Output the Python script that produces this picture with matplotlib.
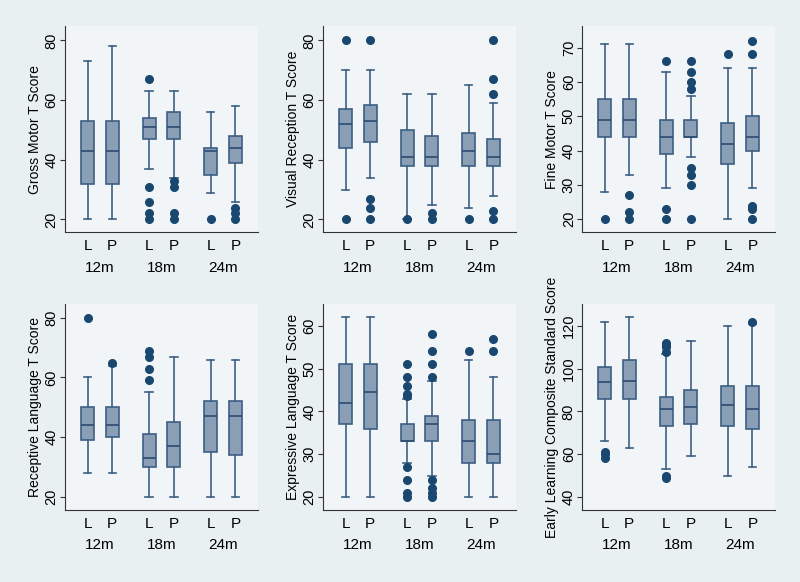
import matplotlib
matplotlib.use("Agg")
import matplotlib.pyplot as plt

plt.rcParams["font.family"] = ["Liberation Sans", "DejaVu Sans"]

# categories
GROUPS = ["12m", "18m", "24m"]
ARMS = ["L", "P"]

# box stats per panel: (lower whisker, Q1, median, Q3, upper whisker) for 12L,12P,18L,18P,24L,24P
gm_stats = [(20, 32, 43, 53, 73), (20, 32, 43, 53, 78), (37, 47, 51, 54, 63),
            (34, 47, 51, 56, 63), (29, 35, 43, 44, 56), (26, 39, 44, 48, 58)]
gm_out = [[], [], [67, 31, 26, 22, 20], [33, 31, 22, 20], [20], [24, 22, 20]]

vr_stats = [(30, 44, 52, 57, 70), (34, 46, 53, 58.5, 70), (20, 38, 41, 50, 62),
            (25, 38, 41, 48, 62), (24, 38, 43, 49, 65), (28, 38, 41, 47, 59)]
vr_out = [[80, 20], [80, 27, 24, 20], [20], [22, 20], [20], [80, 67, 62, 23, 20]]

fm_stats = [(28, 44, 49, 55, 71), (33, 44, 49, 55, 71), (29, 39, 44, 49, 63),
            (38, 44, 44, 49, 56), (20, 36, 42, 48, 64), (29, 40, 44, 50, 64)]
fm_out = [[20], [27, 22, 20], [66, 23, 20], [66, 63, 60, 58, 35, 33, 30, 20],
          [68], [72, 68, 24, 23, 20]]

rl_stats = [(28, 39, 44, 50, 60), (28, 40, 44, 50, 64), (20, 30, 33, 41, 55),
            (20, 30, 37, 45, 67), (20, 35, 47, 52, 66), (20, 34, 47, 52, 66)]
rl_out = [[80], [65], [69, 67, 63, 59], [], [], []]

el_stats = [(20, 37, 42, 51, 62), (20, 36, 44.5, 51, 62), (28, 33, 33, 37, 43),
            (25, 33, 37, 39, 47), (20, 28, 33, 38, 52), (20, 28, 30, 38, 48)]
el_out = [[], [], [51, 48, 46, 44, 43.5, 27, 24, 21, 20],
          [58, 54, 51, 48, 24, 22, 21, 20], [54], [57, 54]]

elc_stats = [(66, 86, 94, 101, 122), (63, 86, 94.5, 104, 124), (53, 73, 81, 87, 107),
             (59, 74, 82, 90, 113), (50, 73, 83, 92, 120), (54, 72, 81, 92, 121)]
elc_out = [[61, 60, 58], [], [112, 111, 110, 108, 50, 49], [], [], [122]]

PANELS = [
    ("Gross Motor T Score", gm_stats, gm_out, (15.7, 84.8), [20, 40, 60, 80]),
    ("Visual Reception T Score", vr_stats, vr_out, (15.7, 84.8), [20, 40, 60, 80]),
    ("Fine Motor T Score", fm_stats, fm_out, (16.2, 76.3), [20, 30, 40, 50, 60, 70]),
    ("Receptive Language T Score", rl_stats, rl_out, (15.65, 84.6), [20, 40, 60, 80]),
    ("Expressive Language T Score", el_stats, el_out, (16.96, 65.1), [20, 30, 40, 50, 60]),
    ("Early Learning Composite Standard Score", elc_stats, elc_out, (33.9, 130.3),
     [40, 60, 80, 100, 120]),
]

POS = [0, 1, 2.5, 3.5, 5, 6]
BG = "#E8F0F2"
PLOTBG = "#F1F5F7"
NAVY = "#1A476F"
EDGE = "#3D5F84"
FILL = "#8A9EB6"

fig = plt.figure(figsize=(8, 5.82), dpi=100, facecolor=BG)

lefts = [65, 323, 582]
rows = [(26, 232.3), (304, 510)]
for i, (ylab, stats, outs, ylim, yticks) in enumerate(PANELS):
    top, bot = rows[i // 3]
    ax = fig.add_axes([lefts[i % 3] / 800, (582 - bot) / 582, 193 / 800, (bot - top) / 582])
    ax.set_facecolor(PLOTBG)
    boxes = [dict(whislo=s[0], q1=s[1], med=s[2], q3=s[3], whishi=s[4], fliers=o)
             for s, o in zip(stats, outs)]
    ax.bxp(boxes, positions=POS, widths=0.52, capwidths=0.3, patch_artist=True,
           manage_ticks=False,
           boxprops=dict(facecolor=FILL, edgecolor=EDGE, linewidth=1.2),
           whiskerprops=dict(color=EDGE, linewidth=1.2),
           capprops=dict(color=EDGE, linewidth=1.2),
           medianprops=dict(color="#2B4B70", linewidth=1.2),
           flierprops=dict(marker="o", markerfacecolor=NAVY, markeredgecolor=NAVY,
                           markersize=5.5, linestyle="none"))
    ax.set_xlim(-0.92, 6.92)
    ax.set_ylim(*ylim)
    ax.set_yticks(yticks)
    ax.set_yticklabels([str(t) for t in yticks], rotation=90, va="center", fontsize=10.5)
    ax.tick_params(axis="y", length=3.5, width=0.8, color="#333333", pad=1)
    ax.set_xticks(POS)
    ax.set_xticklabels(ARMS * 3, fontsize=11)
    ax.tick_params(axis="x", length=0, pad=5)
    ax.set_ylabel(ylab, fontsize=10, labelpad=2)
    for g, name in enumerate(GROUPS):
        ax.annotate(name, xy=((POS[2 * g] + POS[2 * g + 1]) / 2, 0),
                    xycoords=("data", "axes fraction"), xytext=(0, -25.5),
                    textcoords="offset points", ha="center", va="center", fontsize=11)
    for side in ["top", "right"]:
        ax.spines[side].set_visible(False)
    for side in ["left", "bottom"]:
        ax.spines[side].set_color("#333333")
        ax.spines[side].set_linewidth(0.8)

fig.savefig("out.png", dpi=100, facecolor=BG)
